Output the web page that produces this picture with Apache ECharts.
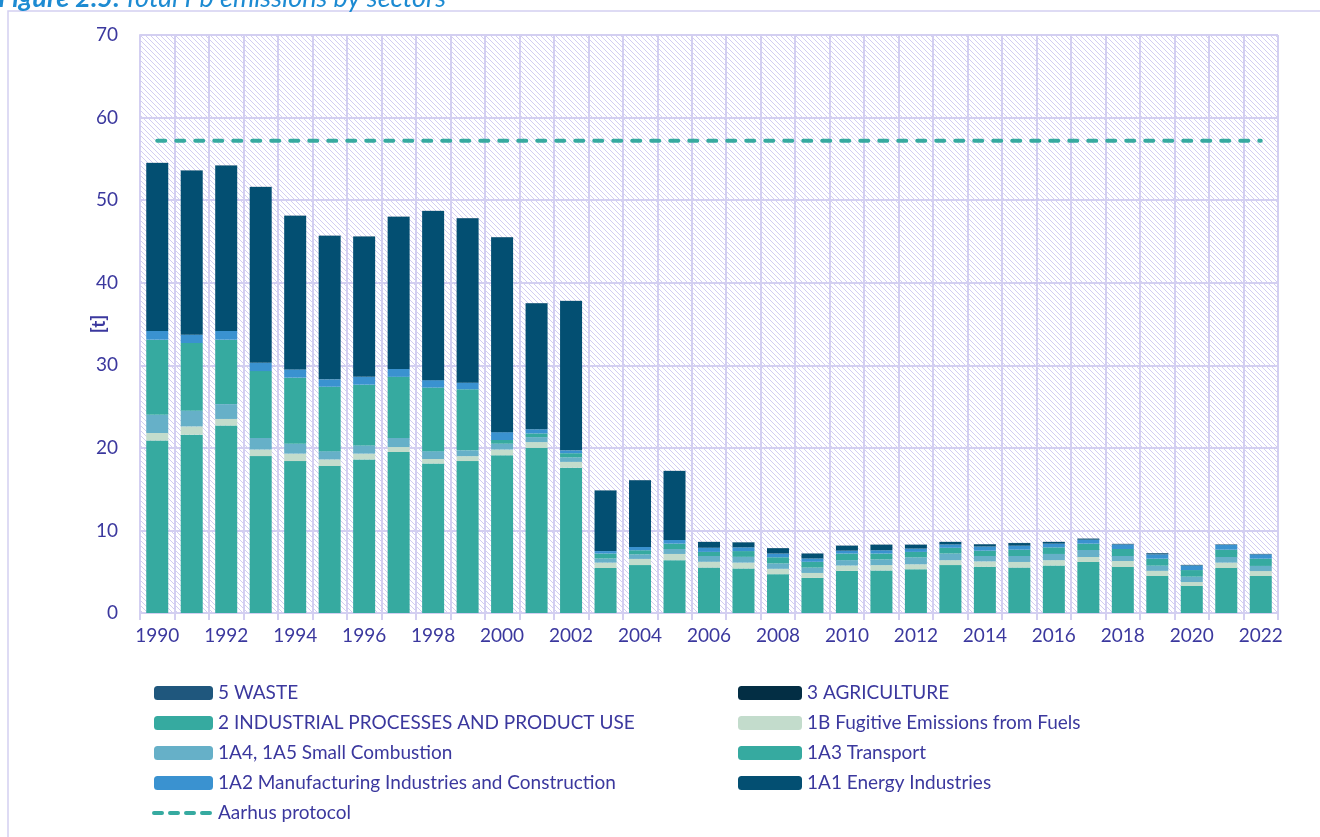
<!DOCTYPE html>
<html>
<head>
<meta charset="utf-8">
<script src="https://cdn.jsdelivr.net/npm/echarts@6/dist/echarts.min.js"></script>
<style>
  html, body { margin: 0; padding: 0; background: #fff; }
  #chart { width: 1320px; height: 837px; }
</style>
</head>
<body>
<div id="chart"></div>
<script>
// data, tonnes
const years = ['1990','1991','1992','1993','1994','1995','1996','1997','1998','1999','2000',
  '2001','2002','2003','2004','2005','2006','2007','2008','2009','2010','2011','2012',
  '2013','2014','2015','2016','2017','2018','2019','2020','2021','2022'];

const transport = [20.9, 21.6, 22.7, 19.0, 18.4, 17.8, 18.6, 19.5, 18.1, 18.4, 19.1,
  20.0, 17.6, 5.45, 5.8, 6.4, 5.5, 5.4, 4.7, 4.25, 5.1, 5.15, 5.3,
  5.8, 5.6, 5.5, 5.75, 6.18, 5.57, 4.48, 3.27, 5.45, 4.48];
const fugitive = [0.9, 1.0, 0.8, 0.8, 0.9, 0.8, 0.7, 0.6, 0.55, 0.6, 0.7,
  0.7, 0.7, 0.65, 0.75, 0.75, 0.7, 0.7, 0.65, 0.6, 0.65, 0.65, 0.6,
  0.6, 0.65, 0.68, 0.65, 0.6, 0.73, 0.62, 0.48, 0.65, 0.6];
const smallComb = [2.2, 1.9, 1.8, 1.4, 1.2, 1.0, 1.0, 1.1, 0.95, 0.7, 0.7,
  0.6, 0.55, 0.5, 0.55, 0.6, 0.7, 0.7, 0.65, 0.65, 0.65, 0.7, 0.85,
  0.8, 0.65, 0.72, 0.75, 0.85, 0.6, 0.63, 0.65, 0.68, 0.62];
const industrial = [9.1, 8.2, 7.8, 8.1, 8.0, 7.8, 7.35, 7.4, 7.7, 7.4, 0.45,
  0.45, 0.5, 0.6, 0.5, 0.65, 0.5, 0.7, 0.75, 0.7, 0.8, 0.7, 0.65,
  0.7, 0.65, 0.77, 0.8, 0.77, 0.85, 0.85, 0.8, 0.89, 0.88];
const manufacturing = [1.05, 1.0, 1.05, 1.0, 1.0, 0.9, 0.95, 0.95, 0.9, 0.8, 0.95,
  0.5, 0.35, 0.3, 0.4, 0.45, 0.5, 0.45, 0.45, 0.4, 0.35, 0.4, 0.4,
  0.4, 0.5, 0.48, 0.45, 0.48, 0.55, 0.52, 0.55, 0.57, 0.52];
const energy = [20.35, 19.9, 20.05, 21.3, 18.6, 17.4, 17.0, 18.45, 20.5, 19.9, 23.6,
  15.25, 18.1, 7.35, 8.07, 8.35, 0.7, 0.6, 0.65, 0.6, 0.6, 0.67, 0.47,
  0.3, 0.27, 0.32, 0.2, 0.12, 0.06, 0.13, 0.06, 0.05, 0.04];
const agriculture = years.map(() => 0.01);
const waste = years.map(() => 0.01);
const aarhus = years.map(() => 57.2);

const txt = '#3b389e';
const gridCol = '#d3cff1';
const font = 'Lato, "Open Sans", sans-serif';

// hatched plot background
const hatch = document.createElement('canvas');
hatch.width = 5; hatch.height = 5;
const hc = hatch.getContext('2d');
hc.fillStyle = '#ffffff';
hc.fillRect(0, 0, 5, 5);
hc.strokeStyle = '#d2cdf2';
hc.lineWidth = 1;
hc.beginPath();
hc.moveTo(-1, -1); hc.lineTo(6, 6);
hc.moveTo(-1, 4); hc.lineTo(1, 6);
hc.moveTo(4, -1); hc.lineTo(6, 1);
hc.stroke();

function bar(name, data, color) {
  return {
    name: name, type: 'bar', stack: 'total', data: data,
    barWidth: 22, itemStyle: { color: color }
  };
}

const dash = { color: '#36aaa0', width: 4, type: [8, 11], cap: 'round' };

const chart = echarts.init(document.getElementById('chart'));
chart.setOption({
  animation: false,
  textStyle: { fontFamily: font },
  graphic: [
    {
      type: 'rect', shape: { x: 8, y: 11, width: 1330, height: 850 },
      style: { fill: 'none', stroke: '#d3cff1', lineWidth: 1.5 }, silent: true
    },
    {
      type: 'text', x: -2, y: 12,
      style: {
        text: '{b|Figure 2.5:} {i|Total Pb emissions by sectors}',
        verticalAlign: 'bottom',
        rich: {
          b: { fontFamily: font, fontSize: 27, fontWeight: 'bold', fontStyle: 'italic', fill: '#1d8bd2' },
          i: { fontFamily: font, fontSize: 27, fontStyle: 'italic', fill: '#1d8bd2' }
        }
      }
    }
  ],
  grid: {
    left: 140, right: 42, top: 35, bottom: 224,
    show: true, borderWidth: 0,
    backgroundColor: { image: hatch, repeat: 'repeat' }
  },
  legend: [
    {
      orient: 'vertical', left: 152, top: 683, padding: 0,
      itemWidth: 59, itemHeight: 14, itemGap: 10,
      textStyle: { color: txt, fontSize: 19, lineHeight: 20, fontFamily: font },
      data: ['5 WASTE', '2 INDUSTRIAL PROCESSES AND PRODUCT USE', '1A4, 1A5 Small Combustion',
        '1A2 Manufacturing Industries and Construction',
        { name: 'Aarhus protocol', itemStyle: { opacity: 0 }, lineStyle: { width: 4, type: [8, 8], cap: 'round' } }]
    },
    {
      orient: 'vertical', left: 738, top: 683, padding: 0,
      itemWidth: 64, itemHeight: 14, itemGap: 10,
      textStyle: { color: txt, fontSize: 19, lineHeight: 20, fontFamily: font },
      data: ['3 AGRICULTURE', '1B Fugitive Emissions from Fuels', '1A3 Transport', '1A1 Energy Industries']
    }
  ],
  xAxis: {
    type: 'category', data: years, boundaryGap: true,
    axisLine: { lineStyle: { color: gridCol, width: 2 } },
    axisTick: { show: true, interval: 0, length: 7, lineStyle: { color: gridCol, width: 2 } },
    axisLabel: { interval: 1, color: txt, fontSize: 19, margin: 13, fontFamily: font },
    splitLine: { show: true, interval: 0, lineStyle: { color: gridCol, width: 2 } }
  },
  yAxis: {
    type: 'value', min: 0, max: 70, interval: 10,
    name: '[t]', nameLocation: 'middle', nameGap: 32, nameRotate: 90,
    nameMoveOverlap: false,
    nameTextStyle: { color: txt, fontSize: 19, fontWeight: 'bold', fontFamily: font },
    axisLine: { show: true, lineStyle: { color: gridCol, width: 2 } },
    axisTick: { show: false },
    axisLabel: { color: txt, fontSize: 19, margin: 22, fontFamily: font },
    splitLine: { show: true, lineStyle: { color: gridCol, width: 2 } }
  },
  series: [
    bar('1A3 Transport', transport, '#36aaa0'),
    bar('1B Fugitive Emissions from Fuels', fugitive, '#c3dccc'),
    bar('1A4, 1A5 Small Combustion', smallComb, '#66b0c8'),
    bar('2 INDUSTRIAL PROCESSES AND PRODUCT USE', industrial, '#36aaa0'),
    bar('1A2 Manufacturing Industries and Construction', manufacturing, '#3a92d0'),
    bar('1A1 Energy Industries', energy, '#034f72'),
    bar('3 AGRICULTURE', agriculture, '#032e44'),
    bar('5 WASTE', waste, '#1f577d'),
    {
      name: 'Aarhus protocol', type: 'line', data: aarhus,
      symbol: 'none', z: 5,
      lineStyle: dash,
      itemStyle: { color: '#36aaa0' }
    }
  ]
});
</script>
</body>
</html>
